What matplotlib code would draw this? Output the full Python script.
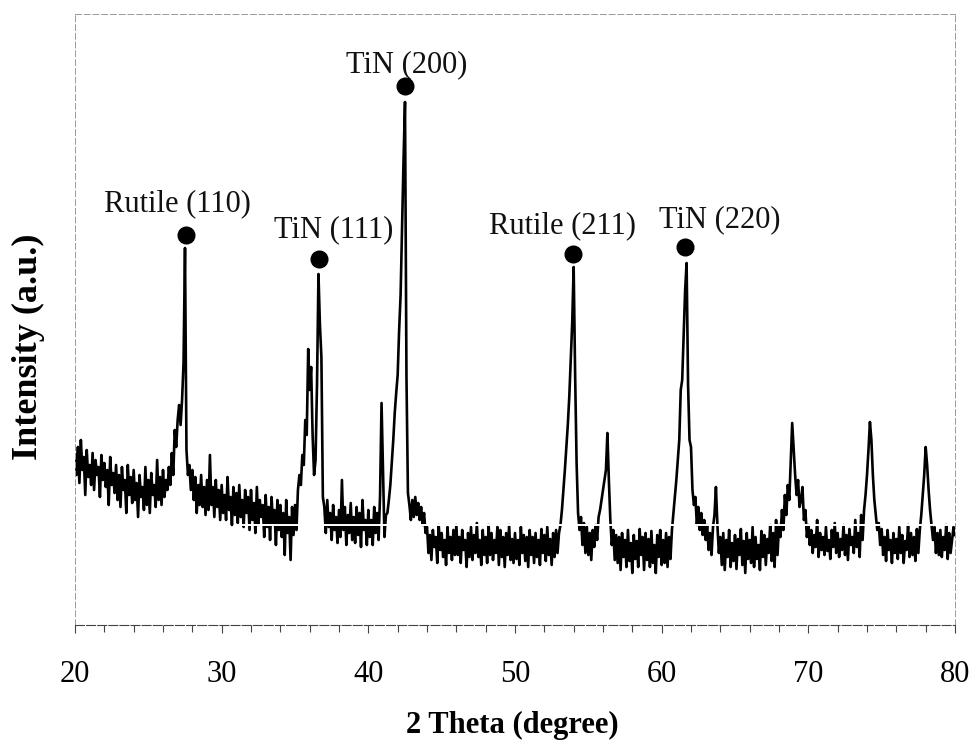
import numpy as np
import matplotlib.pyplot as plt
from matplotlib.ticker import MultipleLocator

# XRD scan, step 0.1 degree, intensity in arbitrary units
scan_start = 20.0
scan_step = 0.1

counts_20_30 = [
    170, 150, 178, 142, 185, 155, 168, 130, 175, 148,
    160, 140, 172, 135, 165, 150, 158, 128, 170, 145,
    162, 138, 155, 120, 168, 140, 152, 132, 160, 125,
    150, 118, 158, 135, 145, 112, 160, 130, 148, 122,
    155, 125, 142, 108, 150, 128, 138, 115, 158, 120,
    145, 112, 152, 130, 140, 118, 165, 125, 148, 120,
    155, 128, 145, 135, 158, 140, 172, 150, 195, 178,
    205, 220, 200, 225, 262, 377, 175, 150, 160, 135,
    155, 125, 148, 112, 140, 120, 150, 118, 138, 110,
    145, 115, 170, 120, 138, 108, 145, 118, 135, 105,
]
counts_30_40 = [
    140, 112, 130, 105, 148, 115, 128, 100, 138, 110,
    132, 102, 140, 108, 125, 98, 135, 112, 128, 95,
    135, 105, 122, 92, 138, 100, 125, 108, 120, 88,
    130, 98, 118, 85, 128, 102, 115, 80, 125, 95,
    120, 88, 112, 70, 125, 92, 108, 65, 118, 90,
    120, 95, 135, 150, 140, 170, 160, 205, 190, 276,
    235, 258, 190, 150, 165, 240, 351, 300, 268, 128,
    118, 92, 125, 98, 112, 85, 120, 95, 108, 82,
    115, 88, 145, 95, 118, 80, 110, 92, 122, 85,
    108, 82, 118, 90, 112, 78, 125, 95, 105, 80,
]
counts_40_50 = [
    115, 88, 105, 80, 118, 92, 112, 85, 130, 222,
    155, 88, 110, 112, 125, 140, 162, 185, 212, 232,
    250, 295, 330, 400, 465, 523, 248, 132, 120, 105,
    125, 108, 128, 110, 122, 105, 118, 100, 112, 92,
    98, 72, 90, 65, 95, 78, 88, 62, 100, 75,
    92, 68, 85, 60, 98, 72, 88, 65, 95, 70,
    100, 70, 88, 62, 95, 75, 85, 58, 92, 68,
    98, 65, 90, 72, 102, 68, 85, 60, 95, 70,
    88, 62, 100, 70, 92, 65, 85, 72, 98, 60,
    95, 68, 88, 58, 92, 70, 100, 65, 86, 62,
]
counts_50_60 = [
    92, 66, 85, 60, 98, 72, 90, 64, 88, 58,
    95, 70, 88, 62, 92, 68, 85, 60, 96, 72,
    90, 64, 98, 70, 86, 60, 92, 68, 95, 72,
    92, 100, 115, 135, 155, 178, 200, 228, 265, 302,
    358, 250, 162, 112, 95, 108, 80, 102, 72, 98,
    70, 92, 65, 95, 78, 100, 85, 108, 115, 125,
    135, 145, 155, 192, 145, 105, 80, 95, 65, 90,
    62, 88, 55, 92, 68, 85, 58, 95, 64, 82,
    52, 90, 66, 84, 58, 96, 70, 88, 55, 92,
    65, 86, 58, 94, 62, 80, 52, 90, 68, 95,
]
counts_60_70 = [
    60, 85, 62, 92, 58, 88, 66, 95, 112, 130,
    145, 165, 185, 235, 245, 290, 335, 362, 240, 185,
    178, 135, 120, 128, 100, 118, 95, 112, 90, 105,
    85, 100, 75, 92, 70, 98, 110, 138, 100, 72,
    88, 60, 92, 55, 85, 68, 95, 58, 82, 64,
    90, 56, 86, 70, 96, 60, 84, 52, 92, 66,
    85, 62, 98, 58, 88, 66, 80, 55, 94, 68,
    90, 60, 86, 72, 100, 64, 92, 58, 105, 70,
    100, 88, 115, 95, 130, 110, 140, 125, 165, 202,
    175, 150, 130, 145, 118, 125, 138, 105, 115, 88,
]
counts_70_80 = [
    100, 80, 95, 72, 90, 78, 105, 68, 92, 75,
    88, 70, 98, 74, 85, 66, 95, 78, 102, 72,
    92, 68, 86, 75, 100, 70, 90, 65, 96, 80,
    88, 72, 105, 78, 92, 68, 110, 85, 115, 130,
    150, 175, 203, 185, 150, 125, 110, 95, 102, 80,
    96, 70, 88, 64, 95, 75, 85, 62, 92, 72,
    86, 66, 98, 72, 90, 62, 84, 75, 100, 68,
    92, 70, 88, 64, 96, 72, 95, 110, 130, 150,
    178, 160, 135, 115, 100, 85, 98, 72, 92, 70,
    95, 68, 88, 75, 100, 66, 92, 72, 85, 98,
    90,
]

# labelled peaks
peak_labels = ["Rutile (110)", "TiN (111)", "TiN (200)", "Rutile (211)", "TiN (220)"]
peak_pos = [27.55, 36.63, 42.5, 53.95, 61.6]
dot_height = [390, 366, 539, 371, 378]
label_x = [26.98, 37.62, 42.63, 53.23, 63.97]
label_y = [414, 388, 553, 392, 398]

# white baseline stroke visible across the noise in the scan
baseline_level = 100
baseline_from = 31.0

intensity = np.array(counts_20_30 + counts_30_40 + counts_40_50 +
                     counts_50_60 + counts_60_70 + counts_70_80)
two_theta = scan_start + scan_step * np.arange(len(intensity))

plt.rcParams['font.family'] = ['Liberation Serif', 'DejaVu Serif']

fig = plt.figure(figsize=(9.75, 7.52), dpi=100)
ax = fig.add_axes([75 / 975, 1 - 625 / 752, 880 / 975, 611 / 752])

ax.plot(two_theta, intensity, color='black', lw=1.9, zorder=2)
ax.hlines(baseline_level, baseline_from, 80, color='white', lw=1.4, zorder=3)

ax.plot(peak_pos, dot_height, 'o', color='black', ms=12, zorder=4)
for txt, lx, ly in zip(peak_labels, label_x, label_y):
    ax.text(lx, ly, txt, fontsize=22, ha='center', va='baseline', color='#111')

ax.set_xlim(20, 80)
ax.set_ylim(0, 611)
ax.set_yticks([])
ax.xaxis.set_major_locator(MultipleLocator(10))
ax.xaxis.set_minor_locator(MultipleLocator(2))
ax.tick_params(axis='x', which='major', direction='out', length=6, width=0.8,
               color='#444', labelsize=22, pad=19)
ax.tick_params(axis='x', which='minor', direction='out', length=5, width=0.8, color='#444')

ax.spines['bottom'].set_color('#444')
ax.spines['bottom'].set_linestyle((0, (8, 2)))
for side in ['left', 'right', 'top']:
    ax.spines[side].set_color('#999')
    ax.spines[side].set_linestyle((0, (6, 3)))
    ax.spines[side].set_linewidth(0.7)

fig.text(28 / 975, 1 - 347 / 752, "Intensity (a.u.)", rotation=90, fontsize=26,
         fontweight='bold', ha='center', va='center')
fig.text(512 / 975, 1 - 733 / 752, "2 Theta (degree)", fontsize=22,
         fontweight='bold', ha='center', va='baseline')

fig.savefig('out.png', dpi=100)
